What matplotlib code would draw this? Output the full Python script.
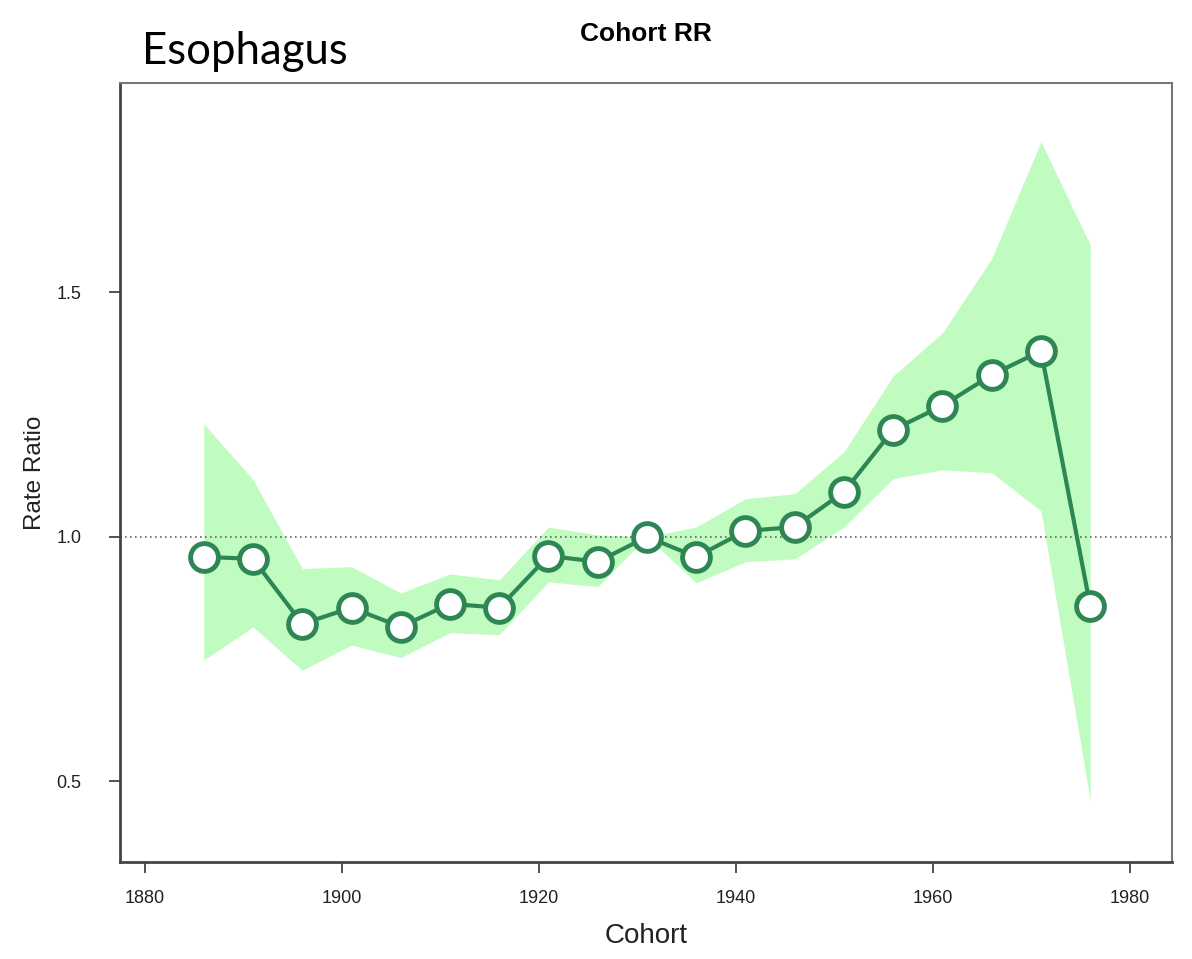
import matplotlib.pyplot as plt
import numpy as np

# cohort rate ratios
cohort = [1886, 1891, 1896, 1901, 1906, 1911, 1916, 1921, 1926, 1931,
          1936, 1941, 1946, 1951, 1956, 1961, 1966, 1971, 1976]
rr = [0.959, 0.955, 0.822, 0.855, 0.816, 0.863, 0.855, 0.961, 0.949, 1.0,
      0.959, 1.012, 1.020, 1.092, 1.219, 1.268, 1.331, 1.380, 0.859]
rr_upper = [1.231, 1.117, 0.935, 0.939, 0.885, 0.924, 0.912, 1.020, 1.004, 1.0,
            1.020, 1.078, 1.088, 1.174, 1.329, 1.417, 1.569, 1.808, 1.597]
rr_lower = [0.748, 0.816, 0.727, 0.779, 0.753, 0.804, 0.800, 0.908, 0.898, 1.0,
            0.906, 0.949, 0.955, 1.020, 1.119, 1.137, 1.131, 1.053, 0.462]

x_ticks = [1880, 1900, 1920, 1940, 1960, 1980]
y_ticks = [0.5, 1.0, 1.5]

line_col = '#2e8655'
band_col = '#c0fcc0'

fig = plt.figure(figsize=(11.92, 9.59), dpi=100)
ax = fig.add_axes([0.1007, 0.1011, 0.8825, 0.8124])

ax.fill_between(cohort, rr_lower, rr_upper, color=band_col, lw=0, zorder=1)
ax.axhline(1.0, color='#666666', ls=(0, (1, 2)), lw=1.2, zorder=2)
ax.plot(cohort, rr, color=line_col, lw=3, marker='o', ms=20,
        mfc='white', mec=line_col, mew=3.5, zorder=3)

ax.set_xlim(1877.5, 1984.3)
ax.set_ylim(0.335, 1.928)
ax.set_xticks(x_ticks)
ax.set_yticks(y_ticks)
ax.set_yticklabels(['0.5', '1.0', '1.5'])

font = ['Liberation Sans', 'DejaVu Sans']
for lab in ax.get_xticklabels() + ax.get_yticklabels():
    lab.set_family(font)
    lab.set_fontsize(13)
    lab.set_color('#222222')

ax.tick_params(axis='x', length=8, width=1.2, pad=12, color='#333333')
ax.tick_params(axis='y', length=8, width=1.2, pad=20, color='#333333')

for side in ['left', 'bottom']:
    ax.spines[side].set_color('#444444')
    ax.spines[side].set_linewidth(2)
for side in ['top', 'right']:
    ax.spines[side].set_color('#777777')
    ax.spines[side].set_linewidth(1.5)

ax.set_xlabel('Cohort', family=font, fontsize=20, color='#222222', labelpad=12)
ax.set_ylabel('Rate Ratio', family=font, fontsize=17.5, color='#222222', labelpad=7)

fig.text(0.542, 0.965, 'Cohort RR', family=font, fontsize=19, fontweight='bold',
         ha='center', va='center')
fig.text(142 / 1192, 1 - 64 / 959, 'Esophagus', family=['Lato', 'DejaVu Sans'],
         fontsize=31.5, ha='left', va='baseline')

fig.savefig('out.png', dpi=100)
